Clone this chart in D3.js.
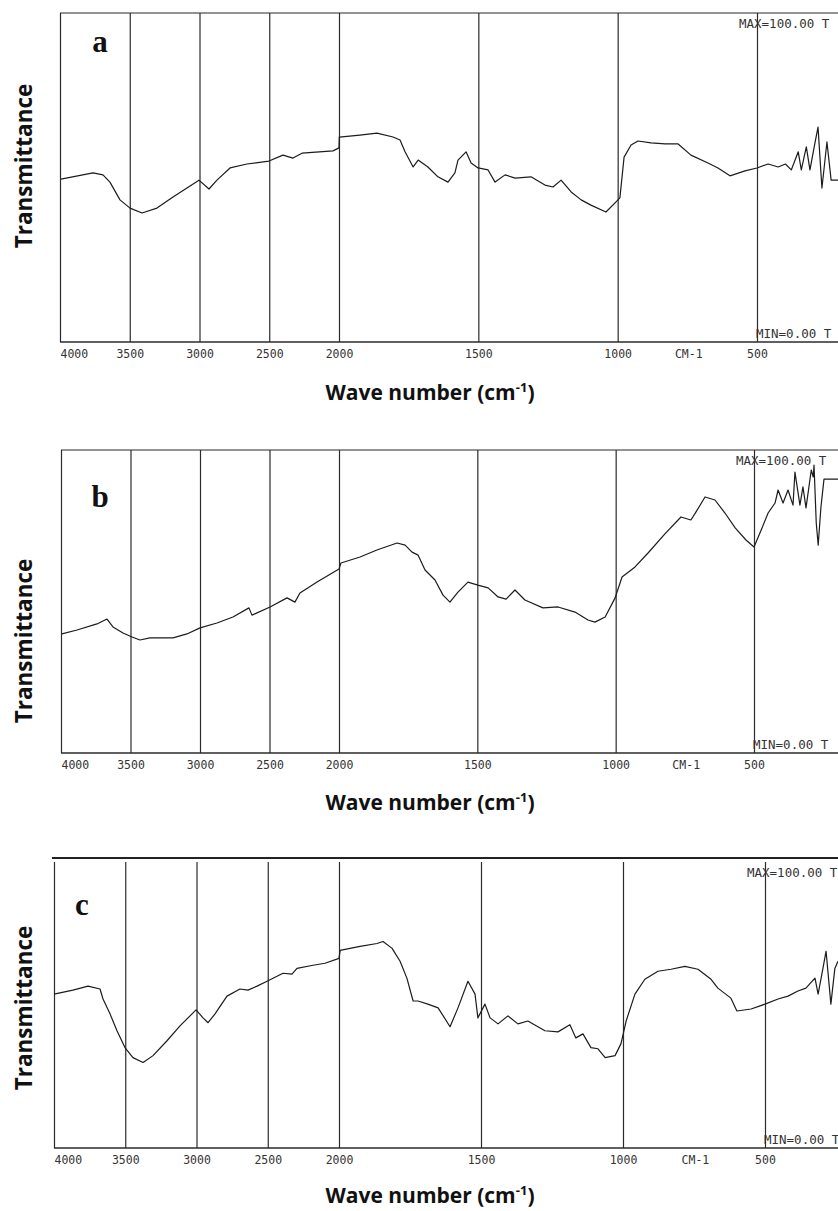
<!DOCTYPE html>
<html>
<head>
<meta charset="utf-8">
<script src="https://cdnjs.cloudflare.com/ajax/libs/d3/7.8.5/d3.min.js"></script>
<style>
  body { margin: 0; background: #fff; }
  svg { display: block; }
</style>
</head>
<body>
<svg id="chart" width="838" height="1211"></svg>
<script>

var tickValues = [4000, 3500, 3000, 2500, 2000, 1500, 1000, 500];
var unitLabel = "CM-1";
var maxLabel = "MAX=100.00 T";
var minLabel = "MIN=0.00 T";
var panelNames = ["a", "b", "c"];

// panel a
var wnA = [3993, 3763, 3692, 3642, 3570, 3498, 3412, 3305, 3190, 3090, 3004, 2932, 2875, 2781, 2660, 2502, 2402, 2330, 2265, 2043, 2000,
  1999, 1925, 1864, 1806, 1781, 1763, 1734, 1716, 1681, 1645, 1609, 1584, 1573, 1544, 1526, 1501, 1465, 1440, 1404, 1368, 1311, 1261, 1232,
  1203, 1167, 1131, 1096, 1042, 1006, 992, 977, 952, 927, 880, 830, 783, 737, 676, 640, 597, 543, 500, 460, 424, 398, 377, 352, 341, 323,
  310, 292, 281, 267, 249, 234, 208];
var trA = [49.5, 51.4, 50.8, 48.6, 43.2, 40.7, 39.2, 40.7, 44.1, 46.8, 49.2, 46.5, 49.2, 52.9, 54.1, 55.0, 56.8, 55.9, 57.4, 58.1, 59.0,
  62.3, 62.9, 63.5, 62.3, 61.4, 57.8, 53.2, 55.3, 53.2, 50.2, 48.6, 51.4, 55.3, 57.8, 54.4, 52.9, 52.3, 48.6, 50.8, 49.8, 50.2, 47.7, 47.1,
  49.2, 45.6, 43.2, 41.6, 39.5, 42.6, 43.8, 56.2, 59.9, 61.1, 60.5, 60.2, 60.2, 56.8, 54.4, 52.9, 50.5, 52.0, 52.9, 54.1, 53.2, 54.1, 52.3,
  57.8, 52.3, 59.3, 52.3, 60.5, 65.3, 46.8, 60.8, 49.2, 49.2];

// panel b
var wnB = [3993, 3885, 3741, 3669, 3626, 3554, 3489, 3432, 3360, 3194, 3094, 3000, 2878, 2763, 2648, 2626, 2496, 2374, 2317, 2281, 2158, 2000,
  1993, 1924, 1863, 1790, 1761, 1736, 1714, 1689, 1653, 1624, 1599, 1570, 1534, 1498, 1461, 1425, 1396, 1364, 1328, 1263, 1208, 1147, 1100,
  1075, 1038, 1002, 977, 930, 883, 822, 764, 728, 710, 677, 641, 605, 568, 529, 500, 474, 449, 424, 413, 395, 377, 359, 352, 334, 323, 312,
  293, 286, 283, 275, 268, 258, 247, 196];
var trB = [39.3, 40.6, 42.6, 44.2, 41.6, 39.6, 38.3, 37.3, 38.0, 38.0, 39.3, 41.3, 42.9, 44.9, 47.9, 45.5, 48.2, 51.2, 49.8, 52.8, 56.4, 60.7,
  62.7, 64.7, 67.0, 69.3, 68.6, 66.3, 65.3, 60.4, 57.1, 52.1, 49.8, 53.1, 56.4, 55.4, 54.5, 51.5, 50.8, 53.8, 50.5, 47.9, 48.2, 46.5, 43.9,
  43.2, 44.9, 51.2, 58.1, 61.4, 66.0, 72.3, 77.9, 76.9, 79.5, 84.5, 83.5, 79.2, 74.3, 70.3, 68.0, 73.6, 79.2, 82.5, 86.8, 82.5, 86.8, 81.8,
  92.7, 81.8, 87.8, 80.9, 93.4, 91.1, 95.0, 75.9, 68.6, 81.2, 90.4, 90.4];

// panel c
var wnC = [4000, 3867, 3761, 3677, 3656, 3607, 3558, 3502, 3446, 3375, 3305, 3207, 3116, 3003, 2954, 2919, 2870, 2786, 2695, 2639, 2575, 2505,
  2393, 2330, 2295, 2182, 2098, 2000, 1996, 1926, 1866, 1845, 1813, 1785, 1761, 1739, 1722, 1687, 1651, 1609, 1581, 1546, 1521, 1511, 1486,
  1468, 1440, 1405, 1370, 1335, 1275, 1229, 1187, 1166, 1141, 1113, 1088, 1063, 1028, 1007, 989, 958, 923, 877, 831, 782, 736, 690, 666,
  620, 599, 549, 500, 454, 419, 384, 356, 324, 313, 296, 285, 268, 254, 243];
var trC = [53.8, 55.2, 56.6, 55.6, 52.1, 46.9, 41.0, 35.1, 31.6, 29.9, 32.3, 37.5, 42.7, 48.3, 45.5, 43.8, 46.9, 53.1, 55.6, 55.2, 56.6, 58.3,
  61.1, 60.8, 62.8, 63.9, 64.6, 66.3, 69.1, 70.5, 71.5, 72.2, 69.8, 65.3, 59.4, 51.4, 51.4, 50.3, 49.0, 42.4, 49.0, 58.3, 53.8, 45.5, 50.3,
  45.5, 43.4, 46.2, 43.4, 44.4, 41.0, 40.6, 43.1, 38.5, 39.9, 35.1, 34.7, 31.6, 32.3, 36.5, 44.4, 53.8, 59.0, 61.8, 62.5, 63.5, 62.5, 59.0,
  55.9, 52.4, 47.9, 48.6, 50.3, 52.1, 53.1, 54.9, 55.9, 59.4, 53.8, 62.8, 68.8, 50.3, 62.8, 65.3];

/*************************** Layout ***************************/

var W = 838;
var mono = "'DejaVu Sans Mono', 'Liberation Mono', monospace";
var sans = "'Open Sans', 'Noto Sans', sans-serif";
var serif = "'Liberation Serif', 'DejaVu Serif', serif";

var panels = [
  { name: panelNames[0], wn: wnA, tr: trA, left: 60, top: 13, bottom: 342, x2000: 339, x500: 757,
    letterX: 100, letterY: 52, yTitle: 166, xTitle: 400, heavyTop: false },
  { name: panelNames[1], wn: wnB, tr: trB, left: 61, top: 450, bottom: 753, x2000: 339, x500: 754,
    letterX: 100, letterY: 507, yTitle: 641, xTitle: 810, heavyTop: false },
  { name: panelNames[2], wn: wnC, tr: trC, left: 54, top: 862, bottom: 1148, x2000: 339, x500: 765,
    letterX: 82, letterY: 915, yTitle: 1008, xTitle: 1203, heavyTop: true }
];

var svg = d3.select("#chart");

panels.forEach(function(p){

  var g = svg.append("g");

  // printout x axis: 2x expanded below 2000 cm-1
  var x = d3.scaleLinear().domain([4000, 2000, 500]).range([p.left, p.x2000, p.x500]);
  var y = d3.scaleLinear().domain([0, 100]).range([p.bottom, p.top]);

  /*************************** Frame and grid ***************************/

  var axis = d3.axisBottom(x)
    .tickValues(tickValues)
    .tickSize(-(p.bottom - p.top))
    .tickPadding(8)
    .tickFormat(d3.format("d"));

  var ax = g.append("g")
    .attr("transform", "translate(0," + p.bottom + ")")
    .call(axis);

  ax.select(".domain").remove();
  ax.selectAll(".tick line").attr("stroke", "#2b2b2b").attr("stroke-width", 1.2);
  ax.selectAll(".tick text")
    .attr("fill", "#333")
    .style("font-family", mono)
    .style("font-size", "11.5px")
    .attr("text-anchor", function(d){ return d == 4000 ? "start" : "middle"; });

  // unit label between 1000 and 500
  ax.append("text")
    .attr("x", x(745)).attr("y", 8).attr("dy", "0.71em")
    .attr("fill", "#333").attr("text-anchor", "middle")
    .style("font-family", mono).style("font-size", "11.5px")
    .text(unitLabel);

  // bottom and top lines run off the right edge of the scan
  g.append("line")
    .attr("x1", p.left).attr("x2", W).attr("y1", p.bottom).attr("y2", p.bottom)
    .attr("stroke", "#2b2b2b").attr("stroke-width", 1.4);

  if(p.heavyTop){
    g.append("line")
      .attr("x1", p.left - 2).attr("x2", W).attr("y1", p.top - 4).attr("y2", p.top - 4)
      .attr("stroke", "#222").attr("stroke-width", 2);
  } else {
    g.append("line")
      .attr("x1", p.left).attr("x2", W).attr("y1", p.top).attr("y2", p.top)
      .attr("stroke", "#2b2b2b").attr("stroke-width", 1.2);
  }

  /*************************** MAX / MIN tags ***************************/

  g.append("text")
    .attr("x", x(500) - 18).attr("y", p.top + 15)
    .attr("fill", "#333")
    .style("font-family", mono).style("font-size", "12.5px")
    .text(maxLabel);

  g.append("text")
    .attr("x", x(500) - 1).attr("y", p.bottom - 4)
    .attr("fill", "#333")
    .style("font-family", mono).style("font-size", "12.5px")
    .text(minLabel);

  /*************************** Spectrum ***************************/

  var pts = p.wn.map(function(w, i){ return [w, p.tr[i]]; });

  var line = d3.line()
    .x(function(d){ return x(d[0]); })
    .y(function(d){ return y(d[1]); });

  g.append("path")
    .datum(pts)
    .attr("d", line)
    .attr("fill", "none")
    .attr("stroke", "#1c1c1c")
    .attr("stroke-width", 1.2)
    .attr("stroke-linejoin", "round");

  /*************************** Labels ***************************/

  g.append("text")
    .attr("x", p.letterX).attr("y", p.letterY)
    .attr("text-anchor", "middle")
    .style("font-family", serif).style("font-weight", "bold").style("font-size", "31px")
    .attr("fill", "#111")
    .text(p.name);

  g.append("text")
    .attr("transform", "translate(32," + p.yTitle + ") rotate(-90)")
    .attr("text-anchor", "middle")
    .style("font-family", sans).style("font-weight", "bold").style("font-size", "22.5px")
    .attr("fill", "#111")
    .text("Transmittance");

  var xt = g.append("text")
    .attr("x", 430).attr("y", p.xTitle)
    .attr("text-anchor", "middle")
    .style("font-family", sans).style("font-weight", "bold").style("font-size", "21px")
    .attr("fill", "#111");
  xt.append("tspan").text("Wave number (cm");
  xt.append("tspan").attr("dy", -8).style("font-size", "13px").text("-1");
  xt.append("tspan").attr("dy", 8).text(")");

})

</script>
</body>
</html>
